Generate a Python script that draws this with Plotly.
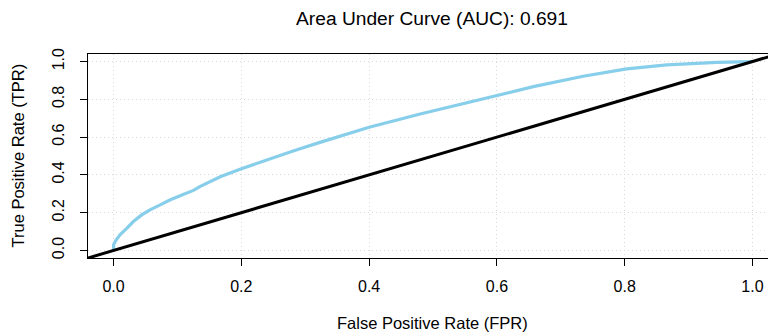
import plotly.graph_objects as go

fpr = [0.0, 0.0, 0.003, 0.010, 0.021, 0.031, 0.044, 0.057, 0.073, 0.088, 0.107, 0.125,
       0.135, 0.151, 0.167, 0.198, 0.240, 0.281, 0.323, 0.354, 0.400, 0.480, 0.558,
       0.605, 0.657, 0.735, 0.803, 0.866, 0.944, 1.0]
tpr = [0.0, 0.03, 0.05, 0.083, 0.118, 0.153, 0.188, 0.215, 0.241, 0.267, 0.294, 0.318,
       0.338, 0.362, 0.390, 0.430, 0.480, 0.527, 0.572, 0.605, 0.652, 0.722, 0.785,
       0.825, 0.867, 0.922, 0.961, 0.982, 0.996, 1.0]
diag = [-0.04, 1.04]
ticks = [0.0, 0.2, 0.4, 0.6, 0.8, 1.0]
tick_text = ["0.0", "0.2", "0.4", "0.6", "0.8", "1.0"]
auc = 0.691

font = "Liberation Sans, Arial, Helvetica, sans-serif"

W, H = 768, 326  # page body has an 8px margin

fig = go.Figure()
fig.add_trace(go.Scatter(x=fpr, y=tpr, mode="lines",
                         line=dict(color="#87CEEB", width=3.2), showlegend=False))
fig.add_trace(go.Scatter(x=diag, y=diag, mode="lines",
                         line=dict(color="black", width=3), showlegend=False))

grid = dict(showgrid=True, gridcolor="#d9d9d9", griddash="1px,3px", gridwidth=1)

fig.update_layout(
    width=W, height=H,
    margin=dict(l=80, r=0, t=46, b=76, autoexpand=False),
    plot_bgcolor="white", paper_bgcolor="white",
    font=dict(family=font, color="black", size=16),
    title=dict(text=f"Area Under Curve (AUC): {auc:.3f}", xref="paper", x=0.5,
               xanchor="center", y=1 - 10.5 / H, yanchor="middle",
               font=dict(size=19.2, family=font)),
    xaxis=dict(range=[-0.04, 1.0368], tickvals=ticks, ticktext=tick_text,
               showline=True, linecolor="black", linewidth=1, mirror=True,
               ticks="outside", ticklen=7, tickcolor="black",
               zeroline=False, ticklabelstandoff=7, automargin=False, **grid),
    yaxis=dict(range=[-0.04, 1.04], tickvals=ticks, ticktext=tick_text,
               showline=True, linecolor="black", linewidth=1,
               ticks="outside", ticklen=7, tickcolor="black", tickangle=-90,
               zeroline=False, ticklabelstandoff=10, automargin=False, **grid),
    annotations=[
        dict(text="False Positive Rate (FPR)", xref="paper", yref="paper",
             x=0.5, y=-65 / 204, xanchor="center", yanchor="middle",
             showarrow=False, font=dict(size=16.5, family=font)),
        dict(text="True Positive Rate (TPR)", xref="paper", yref="paper",
             x=(17.5 - 88) / 688, y=0.5, xanchor="center", yanchor="middle",
             textangle=-90, showarrow=False, font=dict(size=16.5, family=font)),
    ],
)

fig.write_html("out.html")
